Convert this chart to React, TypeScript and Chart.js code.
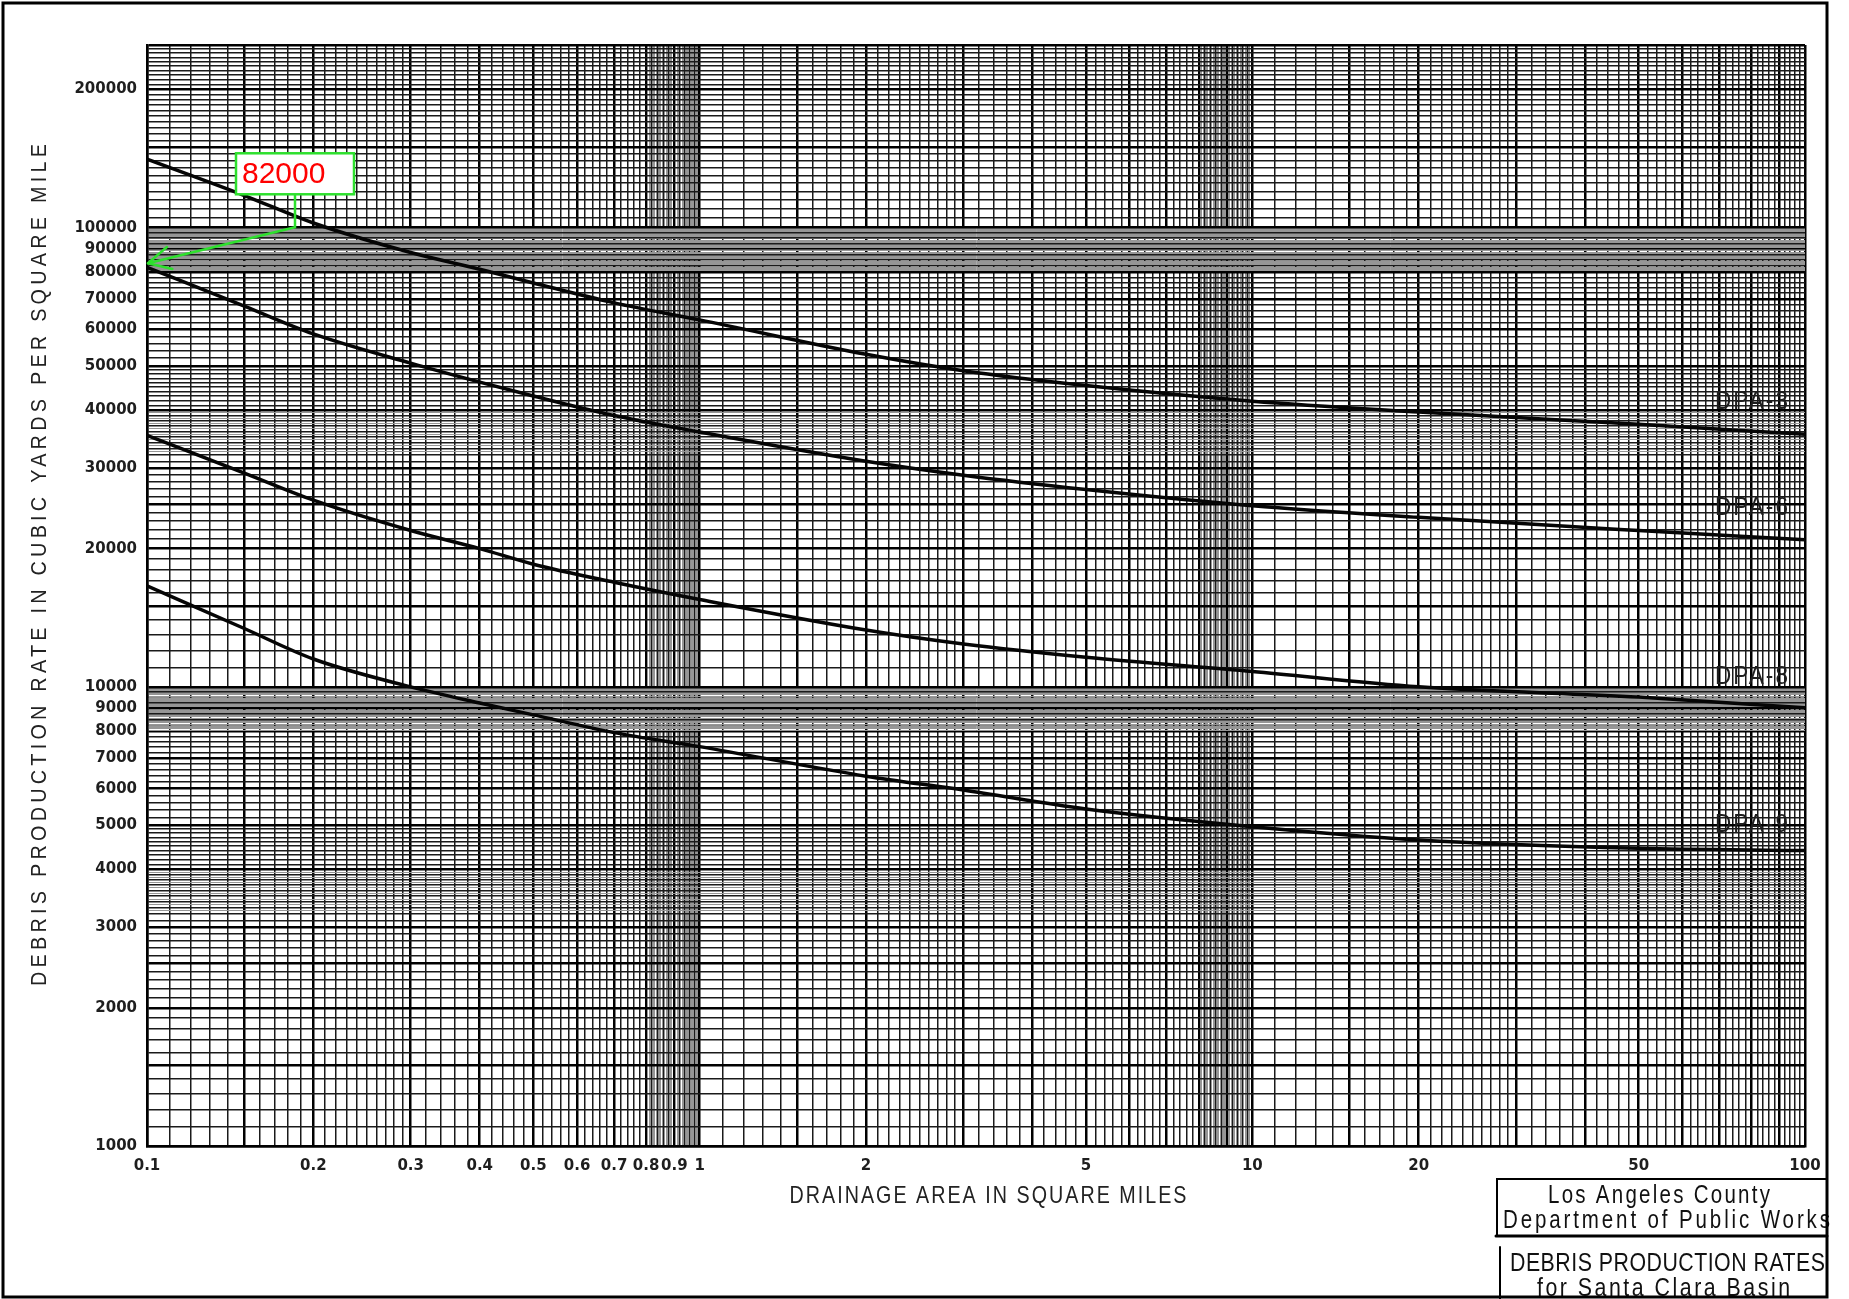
import React, { useEffect, useRef } from "react";
import { Chart, registerables } from "chart.js";

Chart.register(...registerables);

// ---------------- data ----------------
const areaSqMi = [0.1, 0.15, 0.2, 0.3, 0.4, 0.5, 0.7, 1, 2, 3, 5, 10, 20, 50, 100];
const dpa3Rate = [141000, 117500, 102400, 88300, 81200, 75800, 68600, 63000, 53000, 48800, 45300, 41900, 39700, 37300, 35500];
const dpa6Rate = [82000, 67500, 58700, 50700, 46100, 43000, 39000, 35900, 31000, 28900, 26900, 24800, 23400, 21900, 20900];
const dpa8Rate = [35300, 29200, 25500, 21900, 20000, 18500, 16900, 15500, 13300, 12400, 11600, 10800, 10000, 9500, 9000];
const dpa9Rate = [16600, 13400, 11500, 10000, 9220, 8690, 7950, 7410, 6390, 5960, 5420, 4960, 4640, 4450, 4400];
const seriesNames = ["DPA-3", "DPA-6", "DPA-8", "DPA-9"];
const seriesNameRate = [41600, 24500, 10500, 5000];
const seriesNameArea = 80;

const xTickLabels = [0.1, 0.2, 0.3, 0.4, 0.5, 0.6, 0.7, 0.8, 0.9, 1, 2, 5, 10, 20, 50, 100];
const yTickLabels = [
  1000, 2000, 3000, 4000, 5000, 6000, 7000, 8000, 9000, 10000,
  20000, 30000, 40000, 50000, 60000, 70000, 80000, 90000, 100000, 200000,
];

const calloutArea = 0.1;
const calloutRate = 82000;

const xTitle = "DRAINAGE AREA IN SQUARE MILES";
const yTitle = "DEBRIS PRODUCTION RATE IN CUBIC YARDS PER SQUARE MILE";
const agencyLines = ["Los Angeles County", "Department of Public Works"];
const sheetLines = ["DEBRIS PRODUCTION RATES", "for Santa Clara Basin"];

const X_MIN = 0.1;
const X_MAX = 100;
const Y_MIN = 1000;
const Y_MAX = 250000;

// ---------------- graph-paper grid ----------------
function seq(from: number, to: number, step: number): number[] {
  const out: number[] = [];
  const n = Math.round((to - from) / step);
  for (let i = 0; i <= n; i++) out.push(+(from + i * step).toFixed(4));
  return out;
}

type Kind = "major" | "minor" | "faint";
type Line = { value: number; kind: Kind };

function paperLines(
  decades: { base: number; black: number[]; faint: number[] }[],
  majors: number[],
  min: number,
  max: number
): Line[] {
  const map = new Map<string, Line>();
  const put = (raw: number, kind: Kind) => {
    const v = parseFloat(raw.toPrecision(6));
    if (v < min * 0.9999 || v > max * 1.0001) return;
    const k = v.toPrecision(6);
    const prev = map.get(k);
    if (prev && kind === "faint") return;
    if (prev && prev.kind === "major") return;
    map.set(k, { value: v, kind });
  };
  for (const d of decades) {
    d.faint.forEach((m) => put(m * d.base, "faint"));
    d.black.forEach((m) =>
      put(m * d.base, majors.some((M) => Math.abs(M - m) < 1e-6) ? "major" : "minor")
    );
  }
  return [...map.values()].sort((a, b) => a.value - b.value);
}

const xBlack = [...seq(1, 3, 0.1), ...seq(3.2, 10, 0.2)];
const xFaint = seq(8, 10, 0.05);
const xLines = paperLines(
  [
    { base: 0.1, black: xBlack, faint: xFaint },
    { base: 1, black: xBlack, faint: xFaint },
    { base: 10, black: xBlack, faint: [] },
    { base: 100, black: [1], faint: [] },
  ],
  [1, 1.5, 2, 3, 4, 5, 6, 7, 8, 9, 10],
  X_MIN,
  X_MAX
);

const yBlack = [...seq(1, 5, 0.1), ...seq(5.2, 8, 0.2), ...seq(8.25, 10, 0.25)];
const yFaint = [...seq(3.2, 4, 0.05), ...seq(8, 10, 0.05)];
const yLines = paperLines(
  [
    { base: 1000, black: yBlack, faint: yFaint },
    { base: 10000, black: yBlack, faint: yFaint },
    { base: 100000, black: seq(1, 2.5, 0.05), faint: [] },
  ],
  [1, 1.5, 2, 2.5, 3, 4, 5, 6, 7, 8, 9, 10],
  Y_MIN,
  Y_MAX
);

function kindOf(lines: Line[], v: number | undefined): Kind {
  if (v === undefined) return "minor";
  const l = lines.find((q) => Math.abs(q.value - v) / q.value < 1e-6);
  return l ? l.kind : "minor";
}
const lineColor: Record<Kind, string> = { major: "#000000", minor: "#1a1a1a", faint: "#969696" };
const lineWidth: Record<Kind, number> = { major: 2.5, minor: 1.5, faint: 1 };

function labelFor(v: number, labels: number[]): string {
  const hit = labels.find((L) => Math.abs(L - v) / L < 1e-6);
  return hit === undefined ? "" : String(hit);
}

// ---------------- text helpers ----------------
const SANS = '"Liberation Sans", Arial, sans-serif';

// draws text squeezed horizontally (narrow lettering), spaced to fill the given width
function narrowText(
  ctx: CanvasRenderingContext2D,
  text: string,
  x: number,
  y: number,
  width: number,
  align: "left" | "center",
  squeeze: number
) {
  (ctx as any).letterSpacing = "0px";
  const w0 = ctx.measureText(text).width * squeeze;
  const ls = text.length > 1 ? (width - w0) / (text.length - 1) : 0;
  const sx = align === "center" ? x - width / 2 : x;
  ctx.save();
  ctx.translate(sx, y);
  ctx.scale(squeeze, 1);
  (ctx as any).letterSpacing = `${ls / squeeze}px`;
  ctx.textAlign = "left";
  ctx.fillText(text, 0, 0);
  ctx.restore();
  (ctx as any).letterSpacing = "0px";
}

const paperPlugin = {
  id: "paperExtras",
  afterDraw(chart: any) {
    const ctx: CanvasRenderingContext2D = chart.ctx;
    const xs = chart.scales.x;
    const ys = chart.scales.y;
    ctx.save();

    // curve names
    ctx.fillStyle = "#1e1e1e";
    ctx.font = `25px ${SANS}`;
    ctx.textBaseline = "middle";
    seriesNames.forEach((name, i) => {
      const px = xs.getPixelForValue(seriesNameArea);
      const py = ys.getPixelForValue(seriesNameRate[i]);
      narrowText(ctx, name, px, py, 73, "center", 0.9);
    });

    // axis titles
    ctx.fillStyle = "#222";
    ctx.textBaseline = "alphabetic";
    ctx.font = `24px ${SANS}`;
    narrowText(ctx, xTitle, 988, 1203, 397, "center", 0.82);

    ctx.save();
    ctx.translate(46, 565);
    ctx.rotate(-Math.PI / 2);
    ctx.font = `22px ${SANS}`;
    narrowText(ctx, yTitle, 0, 0, 842, "center", 0.9);
    ctx.restore();

    // callout
    const tipX = xs.getPixelForValue(calloutArea);
    const tipY = ys.getPixelForValue(calloutRate);
    const bx = tipX + 89;
    const by = tipY - 114;
    const bw = 118;
    const bh = 41;
    const elbowX = tipX + 148;
    const elbowY = tipY - 40;
    ctx.strokeStyle = "#2ee02e";
    ctx.lineWidth = 2.5;
    ctx.lineCap = "round";
    ctx.beginPath();
    ctx.moveTo(elbowX, by + bh);
    ctx.lineTo(elbowX, elbowY);
    ctx.lineTo(tipX + 1, tipY - 4);
    ctx.stroke();
    const ang = Math.atan2(elbowY - (tipY - 4), elbowX - (tipX + 1));
    const armLen = 25;
    ctx.beginPath();
    [-0.47, 0.47].forEach((d) => {
      ctx.moveTo(tipX + 1, tipY - 4);
      ctx.lineTo(tipX + 1 + armLen * Math.cos(ang + d), tipY - 4 + armLen * Math.sin(ang + d));
    });
    ctx.stroke();
    ctx.fillStyle = "#ffffff";
    ctx.fillRect(bx, by, bw, bh);
    ctx.lineWidth = 2.5;
    ctx.strokeRect(bx, by, bw, bh);
    ctx.fillStyle = "#ff0000";
    ctx.font = `30px ${SANS}`;
    ctx.textAlign = "left";
    ctx.fillText(String(calloutRate), bx + 6, by + bh - 11);

    // title block
    ctx.strokeStyle = "#000";
    ctx.lineWidth = 2;
    ctx.beginPath();
    ctx.moveTo(1827, 1179);
    ctx.lineTo(1497, 1179);
    ctx.lineTo(1497, 1236);
    ctx.stroke();
    ctx.lineWidth = 3;
    ctx.beginPath();
    ctx.moveTo(1496, 1236);
    ctx.lineTo(1827, 1236);
    ctx.stroke();
    ctx.lineWidth = 2;
    ctx.beginPath();
    ctx.moveTo(1500, 1247);
    ctx.lineTo(1500, 1299);
    ctx.stroke();

    ctx.fillStyle = "#111";
    ctx.font = `25px ${SANS}`;
    narrowText(ctx, agencyLines[0], 1659, 1203, 222, "center", 0.82);
    narrowText(ctx, agencyLines[1], 1503, 1228, 327, "left", 0.82);
    ctx.font = `26px ${SANS}`;
    narrowText(ctx, sheetLines[0], 1510, 1271, 315, "left", 0.82);
    narrowText(ctx, sheetLines[1], 1537, 1296, 253, "left", 0.82);

    // page frame
    ctx.strokeStyle = "#000";
    ctx.lineWidth = 3;
    ctx.strokeRect(3, 3, 1824, 1294);

    ctx.restore();
  },
};

export default function App() {
  const canvasRef = useRef<HTMLCanvasElement | null>(null);

  useEffect(() => {
    const canvas = canvasRef.current;
    if (!canvas) return;
    const series = [dpa3Rate, dpa6Rate, dpa8Rate, dpa9Rate];
    const chart = new Chart(canvas, {
      type: "scatter",
      data: {
        datasets: series.map((vals, i) => ({
          label: seriesNames[i],
          data: areaSqMi.map((a, j) => ({ x: a, y: vals[j] })),
          showLine: true,
          borderColor: "#050505",
          borderWidth: 3.5,
          pointRadius: 0,
          pointHoverRadius: 0,
          cubicInterpolationMode: "monotone" as const,
          fill: false,
        })),
      },
      options: {
        responsive: false,
        animation: false,
        devicePixelRatio: 1,
        events: [],
        layout: { padding: { top: 45, right: 44, left: 0, bottom: 0 } },
        plugins: {
          legend: { display: false },
          tooltip: { enabled: false },
          title: { display: false },
        },
        scales: {
          x: {
            type: "logarithmic",
            min: X_MIN,
            max: X_MAX,
            afterBuildTicks: (axis: any) => {
              axis.ticks = xLines.map((l) => ({ value: l.value }));
            },
            afterFit: (axis: any) => {
              axis.height = 153;
            },
            ticks: {
              autoSkip: false,
              maxRotation: 0,
              minRotation: 0,
              padding: 11,
              color: "#1e1e1e",
              font: { family: '"DejaVu Sans", sans-serif', size: 15, weight: "bold" },
              callback: (v: any) => labelFor(Number(v), xTickLabels),
            },
            grid: {
              drawTicks: false,
              color: (c: any) => lineColor[kindOf(xLines, c.tick?.value)],
              lineWidth: (c: any) => lineWidth[kindOf(xLines, c.tick?.value)],
            },
            border: { display: true, color: "#000", width: 2.5 },
          },
          y: {
            type: "logarithmic",
            min: Y_MIN,
            max: Y_MAX,
            afterBuildTicks: (axis: any) => {
              axis.ticks = yLines.map((l) => ({ value: l.value }));
            },
            afterFit: (axis: any) => {
              axis.width = 147;
            },
            ticks: {
              autoSkip: false,
              padding: 10,
              color: "#1e1e1e",
              font: { family: '"DejaVu Sans", sans-serif', size: 15, weight: "bold" },
              callback: (v: any) => labelFor(Number(v), yTickLabels),
            },
            grid: {
              drawTicks: false,
              color: (c: any) => lineColor[kindOf(yLines, c.tick?.value)],
              lineWidth: (c: any) => lineWidth[kindOf(yLines, c.tick?.value)],
            },
            border: { display: true, color: "#000", width: 2.5 },
          },
        },
      } as any,
      plugins: [paperPlugin],
    });
    return () => chart.destroy();
  }, []);

  return (
    <div
      style={{
        position: "absolute",
        left: 0,
        top: 0,
        width: 1849,
        height: 1299,
        background: "#ffffff",
      }}
    >
      <canvas ref={canvasRef} width={1849} height={1299} style={{ display: "block" }} />
    </div>
  );
}
